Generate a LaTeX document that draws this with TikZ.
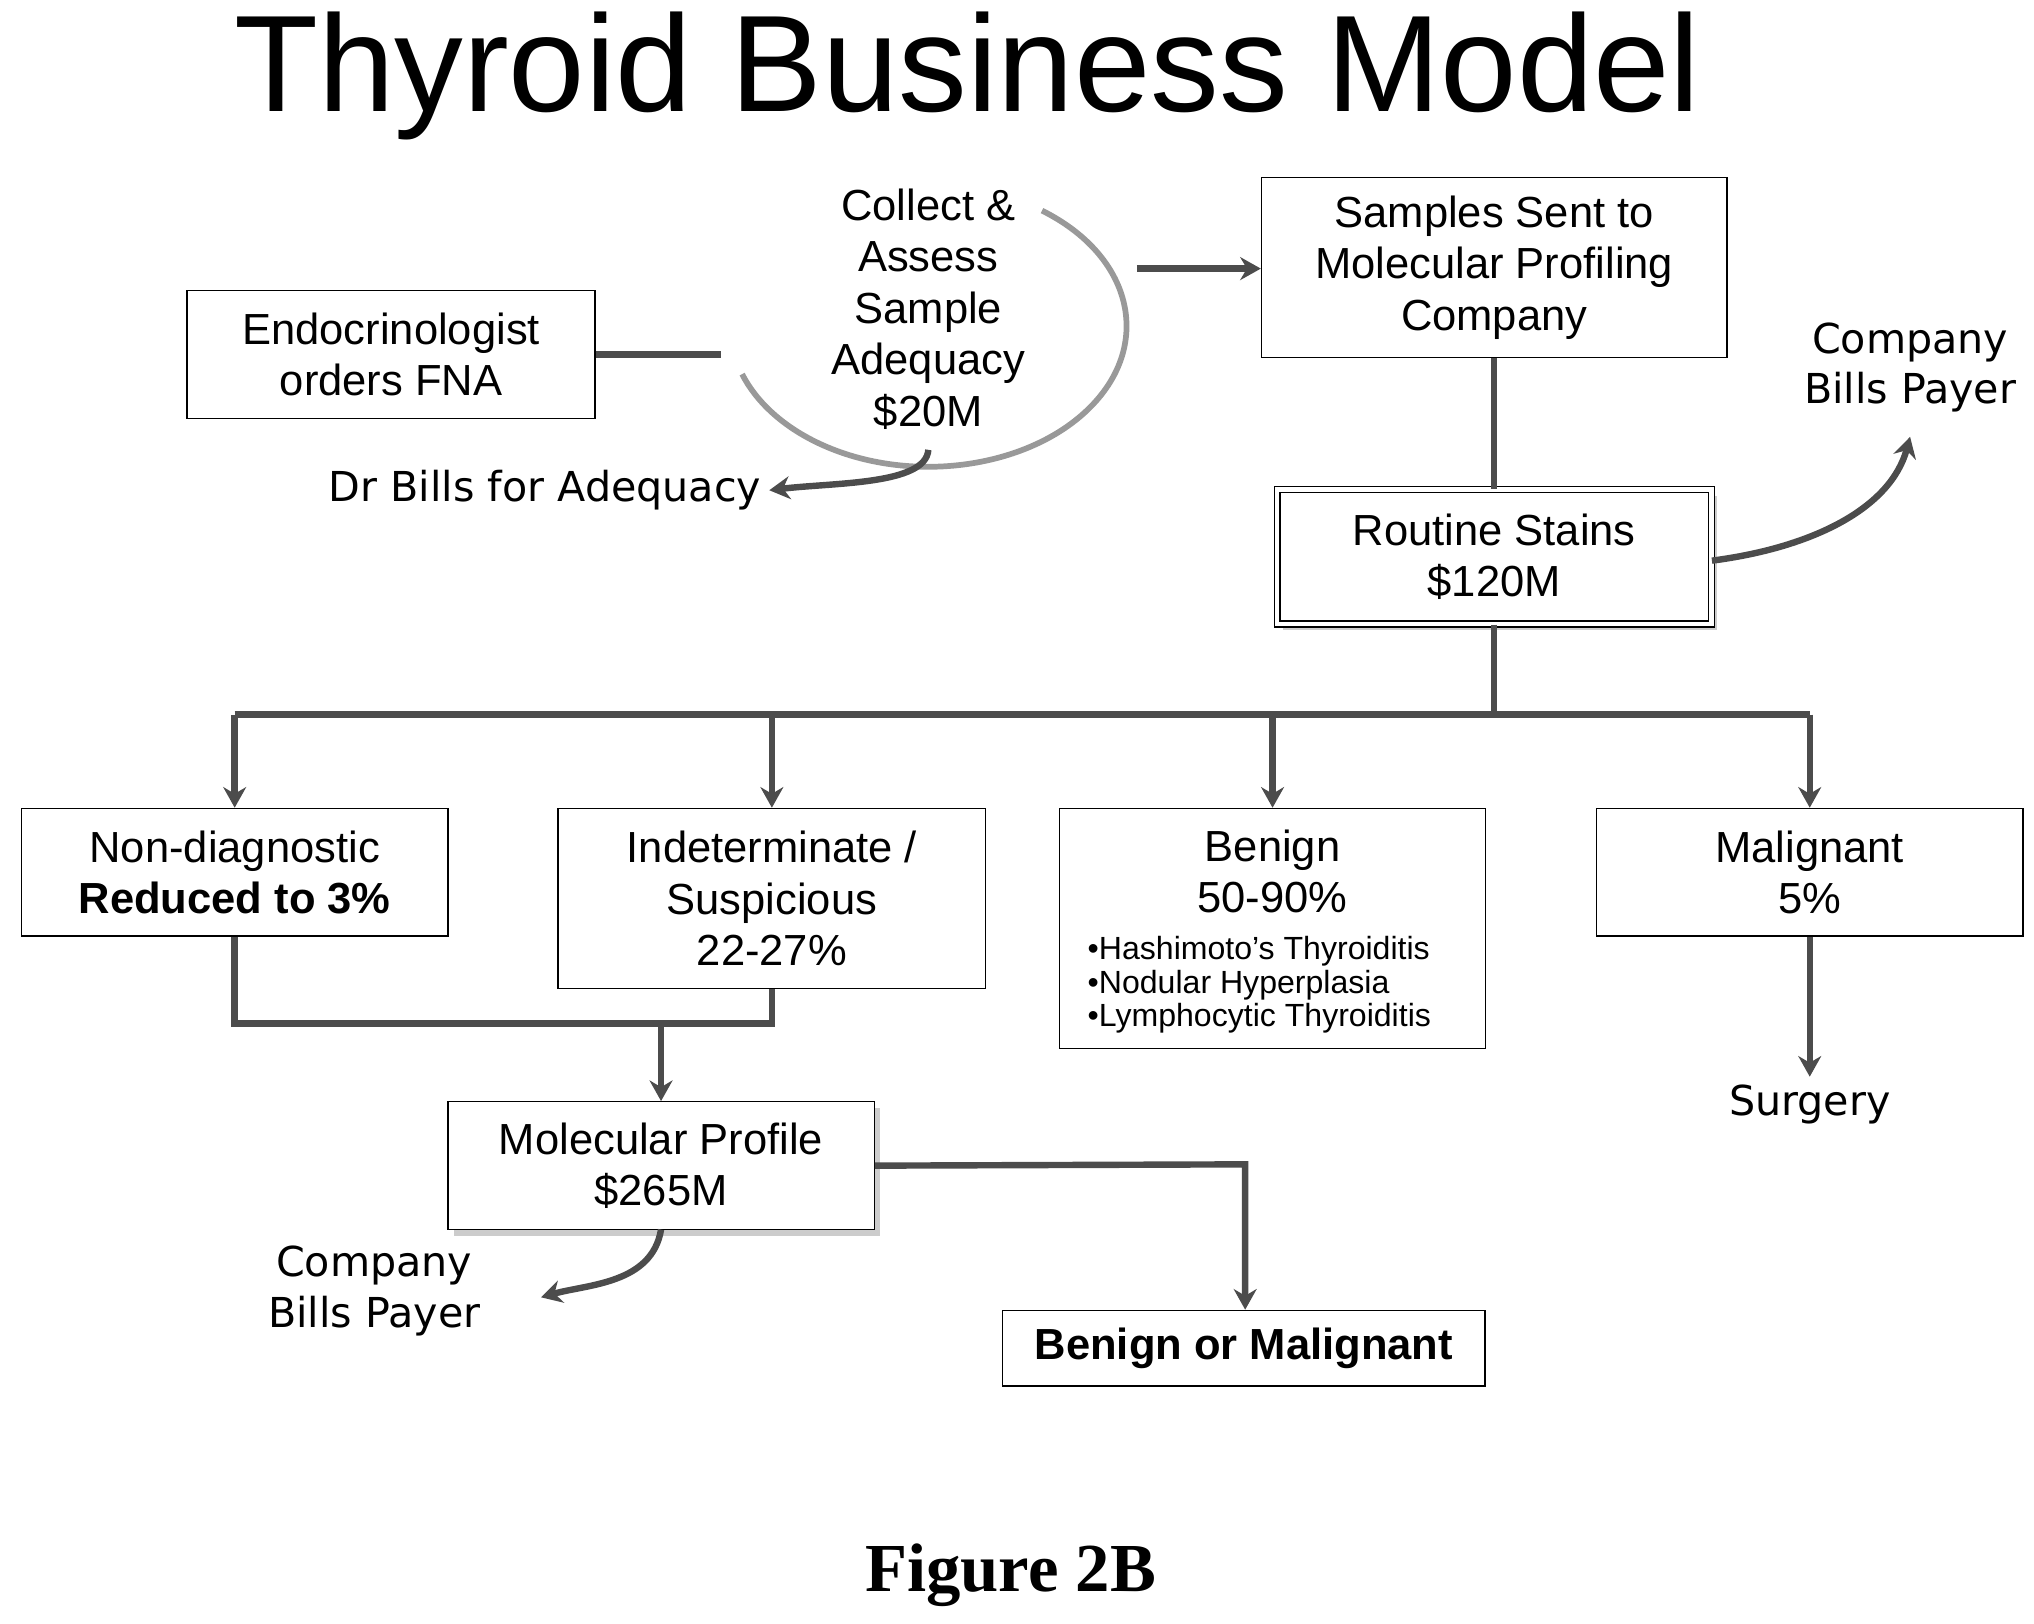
\documentclass[tikz,border=0pt]{standalone}
\usepackage{fontspec}
\setmainfont{Liberation Sans}
\newfontfamily\lucida{DejaVu Sans}
\newfontfamily\figfont{Liberation Serif}
\usetikzlibrary{arrows.meta,shadows}
\newcommand{\boxFont}[0]{\fontsize{19}{22.5}\selectfont}

\begin{document}
\begin{tikzpicture}[x=0.02cm, y=-0.02cm]
  \tikzset{every node/.style={align=center},
    box/.style={draw, line width=0.6pt, inner sep=0pt, font=\boxFont},
    link/.style={draw=black!70, line width=2.8pt},
    arr/.style={link, -{Stealth[length=9pt,width=10pt]}},
    label/.style={font=\lucida\fontsize{18}{22}\selectfont}}
  \useasboundingbox (0,0) rectangle (1560,1245);
  \node[font=\fontsize{60}{66}\selectfont] (title) at (742,58) {Thyroid Business Model};
  \node[box, minimum width=6.26cm, minimum height=1.96cm] (endo) at (300,272) {Endocrinologist\\orders FNA};
  \draw[black!40, line width=2.5pt] (712,250) ++(-55:152 and 108) arc[start angle=-55, end angle=160, x radius=152, y radius=108];
  \node[font=\boxFont] (collect) at (712,237) {Collect \&\\Assess\\Sample\\Adequacy\\\$20M};
  \node[box, minimum width=7.14cm, minimum height=2.76cm] (samples) at (1146,205) {Samples Sent to\\Molecular Profiling\\Company};
  \node[box, double, double distance=2pt, drop shadow={fill=black!40}, fill=white, minimum width=6.66cm, minimum height=2.06cm] (stains) at (1146,427) {Routine Stains\\\$120M};
  \node[box, minimum width=6.54cm, minimum height=1.96cm] (nondiag) at (180,669) {Non-diagnostic\\\textbf{Reduced to 3\%}};
  \node[box, minimum width=6.56cm, minimum height=2.76cm] (indet) at (592,689) {Indeterminate /\\Suspicious\\22-27\%};
  \node[box, minimum width=6.54cm, minimum height=3.68cm] (benign) at (976,712) {};
  \node[font=\boxFont, anchor=north] (bentext) at (976,630) {Benign\\50-90\%};
  \node[font=\fontsize{14}{14.6}\selectfont, align=left, anchor=north west] (benlist) at (828,712)
    {\textbullet Hashimoto's Thyroiditis\\\textbullet Nodular Hyperplasia\\\textbullet Lymphocytic Thyroiditis};
  \node[box, minimum width=6.54cm, minimum height=1.96cm] (malig) at (1388,669) {Malignant\\5\%};
  \node[box, drop shadow={fill=black!40}, fill=white, minimum width=6.54cm, minimum height=1.96cm] (molec) at (507,894) {Molecular Profile\\\$265M};
  \node[box, minimum width=7.4cm, minimum height=1.16cm, font=\boxFont\bfseries] (result) at (954,1034) {Benign or Malignant};
  \node[label] (surgery) at (1388,847) {Surgery};
  \node[label, anchor=east] (drbills) at (590,376) {Dr Bills for Adequacy};
  \node[label] (paytop) at (1465,282) {Company\\Bills Payer};
  \node[label] (paymol) at (287,990) {Company\\Bills Payer};
  % connectors
  \coordinate (endoEnd) at (553,272);
  \coordinate (collectOut) at (872,206);
  \draw[link] (endo.east) -- (endoEnd);
  \draw[arr] (collectOut) -- (samples.west |- collectOut);
  \draw[link] (samples) -- (stains);
  \draw[link] (stains.south) -- (1146,548) coordinate (bus);
  \draw[link] (180,548) -- (1388,548);
  \foreach \n/\x in {nondiag/180, indet/592, benign/976, malig/1388}
    \draw[arr] (\x,548) -- (\n.north -| \x,0);
  \draw[link] (nondiag.south) -- (180,785) -- (592,785) -- (indet.south);
  \draw[arr] (507,785) -- (molec.north);
  \draw[arr] (molec.east) -- (955,893) -- (result.north -| 955,0);
  \draw[arr] (malig.south) -- (surgery.north);
  \draw[arr] (712,345) .. controls (710,372) and (640,370) .. (drbills.east);
  \draw[arr] (stains.east |- 0,430) .. controls (1390,420) and (1450,390) .. (1465,335);
  \draw[arr] (507,943) .. controls (500,985) and (450,985) .. (415,995);
  \node[font=\figfont\bfseries\fontsize{30}{34}\selectfont] (fig) at (775,1208) {Figure 2B};
\end{tikzpicture}
\end{document}
